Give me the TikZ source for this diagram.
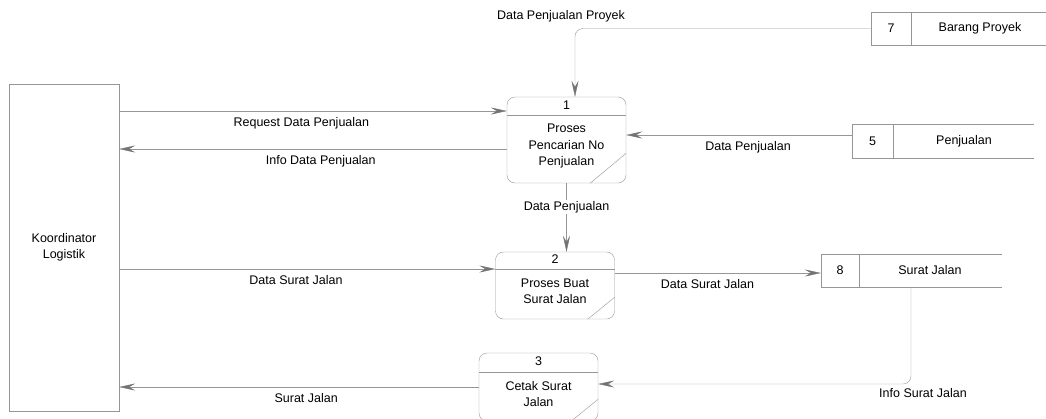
\documentclass[tikz,border=0pt]{standalone}
\usepackage{fontspec}
\setmainfont{Liberation Sans}
\usetikzlibrary{arrows.meta,positioning,calc}
\definecolor{linegray}{RGB}{150,150,150}
\definecolor{tipgray}{RGB}{115,115,115}

\begin{document}
\begin{tikzpicture}[x=1pt,y=-1pt,
        font=\fontsize{12.5}{16.5}\selectfont,
        entity/.style={draw=linegray,minimum width=110pt,minimum height=327pt,align=center},
        proc/.style={draw=linegray,rounded corners=8pt,minimum width=119pt},
        storeid/.style={draw=linegray,minimum height=33pt},
        edge/.style={draw=linegray},
        flow/.style={draw=linegray,-{Stealth[length=16pt,width=7pt,inset=6pt,color=tipgray]}},
        lbl/.style={inner sep=6pt,text height=9pt,text depth=3pt}
    ]
        \useasboundingbox (0,0) rectangle (1046,418);

        % External entity
        \node[entity] (kl) at (64,247.5) {Koordinator\\Logistik};

        % Process 1
        \node[proc,minimum height=86pt] (p1) at (566.5,140) {};
        \draw[edge] ($(p1.north west)+(0,18)$) -- ($(p1.north east)+(0,18)$);
        \node (p1num) at ($(p1.north)+(0,8)$) {1};
        \node[align=center] (p1txt) at ($(p1.center)+(0,6)$) {Proses\\Pencarian No\\Penjualan};
        \draw[edge] ($(p1.south east)+(-36,0)$) -- ($(p1.south east)+(0,-30)$);

        % Process 2
        \node[proc,minimum height=67pt] (p2) at (555,285.5) {};
        \draw[edge] ($(p2.north west)+(0,17)$) -- ($(p2.north east)+(0,17)$);
        \node (p2num) at ($(p2.north)+(0,7)$) {2};
        \node[align=center] (p2txt) at ($(p2.center)+(0,6)$) {Proses Buat\\Surat Jalan};
        \draw[edge] ($(p2.south east)+(-27,0)$) -- ($(p2.south east)+(0,-22)$);

        % Process 3
        \node[proc,minimum height=68pt] (p3) at (538.5,387) {};
        \draw[edge] ($(p3.north west)+(0,19)$) -- ($(p3.north east)+(0,19)$);
        \node (p3num) at ($(p3.north)+(0,8)$) {3};
        \node[align=center] (p3txt) at ($(p3.center)+(0,7)$) {Cetak Surat\\Jalan};
        \draw[edge] ($(p3.south east)+(-27,0)$) -- ($(p3.south east)+(0,-22)$);

        % Data stores
        \node[storeid,minimum width=40pt] (s7) at (891,28.5) {7};
        \draw[edge] (s7.north east) -- ++(140,0);
        \draw[edge] (s7.south east) -- ++(140,0);
        \node (s7name) at (980,28.5) {Barang Proyek};

        \node[storeid,minimum width=41pt,minimum height=34pt] (s5) at (872.5,141) {5};
        \draw[edge] (s5.north east) -- ++(141,0);
        \draw[edge] (s5.south east) -- ++(141,0);
        \node (s5name) at (964,141) {Penjualan};

        \node[storeid,minimum width=38pt] (s8) at (840,270.5) {8};
        \draw[edge] (s8.north east) -- ++(143,0);
        \draw[edge] (s8.south east) -- ++(143,0);
        \node (s8name) at (930,270.5) {Surat Jalan};

        % Flows around process 1
        \draw[flow,rounded corners=8pt] (s7.west) -| ([xshift=8.5pt]p1.north)
            node[lbl,pos=0.5,above,xshift=-14pt] {Data Penjualan Proyek};
        \draw[flow] ([yshift=6pt]s5.west) -- ([yshift=6pt]s5.west -| p1.east)
            node[lbl,pos=0.46,below] {Data Penjualan};
        \draw[flow] ([yshift=29pt]p1.west -| kl.east) -- ([yshift=29pt]p1.west)
            node[lbl,pos=0.47,below] {Request Data Penjualan};
        \draw[flow] ([yshift=-9pt]p1.west) -- ([yshift=-9pt]p1.west -| kl.east)
            node[lbl,pos=0.48,below] {Info Data Penjualan};
        \draw[flow] (p1.south) -- (p1.south |- p2.north)
            node[pos=0.35,fill=white,inner sep=1pt] {Data Penjualan};

        % Flows around process 2
        \draw[flow] ([yshift=16.5pt]p2.west -| kl.east) -- ([yshift=16.5pt]p2.west)
            node[lbl,pos=0.47,below] {Data Surat Jalan};
        \draw[flow] ([yshift=12.5pt]p2.east) -- ([yshift=12.5pt]p2.east -| s8.west)
            node[lbl,pos=0.45,below] {Data Surat Jalan};

        % Flows around process 3
        \draw[flow,rounded corners=8pt] ([xshift=71pt]s8.south) |- ([yshift=3pt]p3.east)
            node[lbl,pos=0.5,below,xshift=12pt,inner sep=4pt] {Info Surat Jalan};
        \draw[flow] (p3.west) -- (p3.west -| kl.east)
            node[lbl,pos=0.48,below] {Surat Jalan};
    \end{tikzpicture}
\end{document}
